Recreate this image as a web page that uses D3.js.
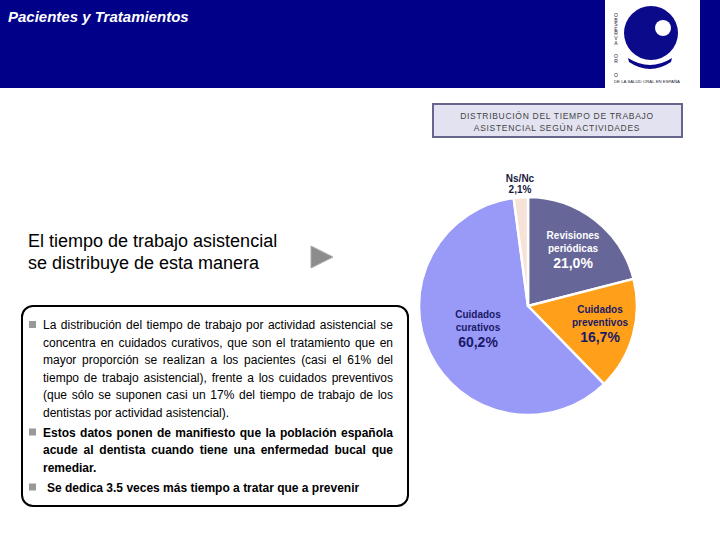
<!DOCTYPE html>
<html><head><meta charset="utf-8">
<script src="https://cdn.jsdelivr.net/npm/d3@7"></script>
<style>body{margin:0;background:#fff;}svg{display:block;font-family:"Liberation Sans",Arial,sans-serif;}</style>
</head><body>
<svg id="c" width="720" height="540"></svg>
<script>
const categories = ["Revisiones periódicas", "Cuidados preventivos", "Cuidados curativos", "Ns/Nc"];
const values = [21.0, 16.7, 60.2, 2.1];
const valueLabels = ["21,0%", "16,7%", "60,2%", "2,1%"];
const labelLines = [["Revisiones", "periódicas"], ["Cuidados", "preventivos"], ["Cuidados", "curativos"], ["Ns/Nc"]];
const colors = ["#666699", "#FF9F1A", "#9999F8", "#F6E2D6"];
const textColors = ["#ffffff", "#1a1a66", "#1a1a66", "#1a1a40"];
const pageTitle = "Pacientes y Tratamientos";
const chartTitle = ["DISTRIBUCIÓN DEL TIEMPO DE TRABAJO", "ASISTENCIAL SEGÚN ACTIVIDADES"];
const heading = ["El tiempo de trabajo asistencial", "se distribuye de esta manera"];
const bullets = [
  {bold:false, text:"La distribución del tiempo de trabajo por actividad asistencial se concentra en cuidados curativos, que son el tratamiento que en mayor proporción se realizan a los pacientes (casi el 61% del tiempo de trabajo asistencial), frente a los cuidados preventivos (que sólo se suponen casi un 17% del tiempo de trabajo de los dentistas por actividad asistencial)."},
  {bold:true, text:"Estos datos ponen de manifiesto que la población española acude al dentista cuando tiene una enfermedad bucal que remediar."},
  {bold:true, text:" Se dedica 3.5 veces más tiempo a tratar que a prevenir"}
];

const svg = d3.select("#c");

// header
svg.append("rect").attr("x",0).attr("y",0).attr("width",720).attr("height",88).attr("fill","#000088");
svg.append("text").attr("x",8).attr("y",22).attr("fill","#fff").attr("font-size",15).attr("font-style","italic")
  .attr("font-weight","bold").text(pageTitle);

// logo
const logo = svg.append("g");
logo.append("rect").attr("x",605).attr("y",0).attr("width",95).attr("height",88).attr("fill","#fff");
logo.append("circle").attr("cx",651).attr("cy",33).attr("r",27).attr("fill","#0a0a8a");
logo.append("circle").attr("cx",663).attr("cy",28).attr("r",8).attr("fill","#fff");
logo.append("path").attr("d","M628,58 Q650,72 672,58 L671,62 Q650,76 629,62 Z").attr("fill","#0a0a8a");
"OBSERVA  OR  O".split("").forEach((ch,i)=>{
  logo.append("text").attr("x",616).attr("y",17+i*4.6).attr("font-size",5).attr("fill","#223").attr("text-anchor","middle").text(ch);
});
logo.append("text").attr("x",614).attr("y",83).attr("font-size",4.3).attr("fill","#223").text("DE LA SALUD ORAL EN ESPAÑA");

// chart title box
svg.append("rect").attr("x",433).attr("y",104).attr("width",249).attr("height",33)
  .attr("fill","#E2E2F0").attr("stroke","#66668C").attr("stroke-width",2);
chartTitle.forEach((t,i)=>{
  svg.append("text").attr("x",557).attr("y",119+i*11.5).attr("text-anchor","middle")
    .attr("font-size",8.5).attr("letter-spacing",0.7).attr("fill","#444").text(t);
});

// heading
heading.forEach((t,i)=>{
  svg.append("text").attr("x",28).attr("y",247+i*22).attr("font-size",18).attr("fill","#000").text(t);
});
svg.append("path").attr("d","M311,246 L333,257 L311,268 Z").attr("fill","#8c8c8c").attr("stroke","#aaa").attr("stroke-width",1);

// pie
const cx = 528, cy = 306, R = 109;
const pie = d3.pie().sort(null).value(d=>d)(values);
const arc = d3.arc().innerRadius(0).outerRadius(R);
const g = svg.append("g").attr("transform",`translate(${cx},${cy})`);
g.selectAll("path").data(pie).join("path").attr("d",arc)
  .attr("fill",(d,i)=>colors[i]).attr("stroke","#fff").attr("stroke-width",2.5).attr("stroke-linejoin","round");

const labelPos = [[45,-67],[72,7],[-50,12],[-8,-124]];
pie.forEach((d,i)=>{
  const [lx,ly] = labelPos[i];
  const lines = labelLines[i];
  const big = i !== 3;
  const tg = g.append("g").attr("font-weight","bold").attr("text-anchor","middle").attr("fill",textColors[i]);
  lines.forEach((ln,j)=>{
    tg.append("text").attr("x",lx).attr("y",ly+j*12.5).attr("font-size",10).text(ln);
  });
  tg.append("text").attr("x",lx).attr("y",ly+lines.length*12.5+(big?3.5:-1.5))
    .attr("font-size",big?14:10).text(valueLabels[i]);
});

// text box
svg.append("rect").attr("x",22).attr("y",306).attr("width",386).attr("height",200).attr("rx",11)
  .attr("fill","#fff").attr("stroke","#000").attr("stroke-width",2);

const left = 43, right = 393, lh = 17.5;
let y = 329;
const measure = svg.append("text").attr("font-size",12).attr("x",-1000).attr("y",-1000);
function wlen(w,bold){ measure.attr("font-weight",bold?"bold":"normal").text(w); return measure.node().getComputedTextLength(); }
bullets.forEach((b,bi)=>{
  svg.append("rect").attr("x",29).attr("y",y-8).attr("width",7).attr("height",7).attr("fill","#999");
  const lead = b.text.startsWith(" ") ? 4 : 0;
  const words = b.text.trim().split(/\s+/);
  const sp = wlen("a b",b.bold)-wlen("ab",b.bold);
  const width = right-left-lead;
  let lines=[], cur=[], curW=0;
  words.forEach(w=>{
    const ww = wlen(w,b.bold);
    const nw = cur.length? curW+sp+ww : ww;
    if(nw>width && cur.length){ lines.push(cur); cur=[w]; curW=ww; } else { cur.push(w); curW=nw; }
  });
  if(cur.length) lines.push(cur);
  lines.forEach((ln,li)=>{
    const last = li===lines.length-1;
    const ws = ln.map(w=>wlen(w,b.bold));
    const tot = d3.sum(ws);
    const gap = (!last && ln.length>1) ? (width-tot)/(ln.length-1) : sp;
    let x = left+lead;
    ln.forEach((w,k)=>{
      svg.append("text").attr("x",x).attr("y",y).attr("font-size",12).attr("font-weight",b.bold?"bold":"normal")
        .attr("fill","#000").text(w);
      x += ws[k]+gap;
    });
    y += lh;
  });
  y += 2.5;
});
measure.remove();
</script>
</body></html>
